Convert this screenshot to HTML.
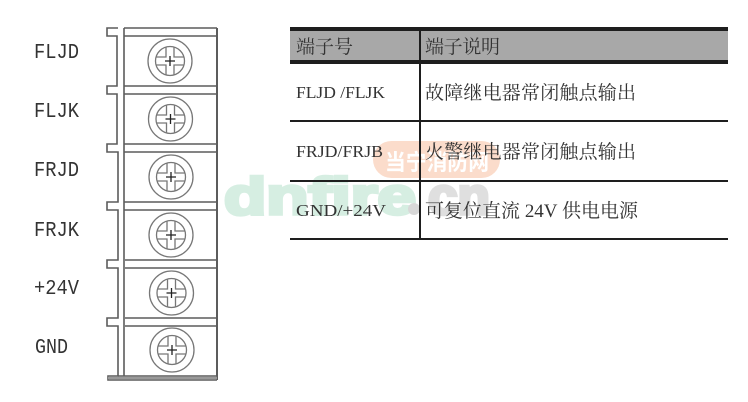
<!DOCTYPE html>
<html><head><meta charset="utf-8">
<style>
html,body{margin:0;padding:0;background:#fff}
body{width:748px;height:402px;overflow:hidden;position:relative}
svg{position:absolute;left:0;top:0;filter:blur(0.35px)}
</style></head>
<body>
<svg width="748" height="402" viewBox="0 0 748 402" xmlns="http://www.w3.org/2000/svg">
<!-- watermark -->
<text x="224" y="214" font-family="'Liberation Sans',sans-serif" font-weight="700" font-size="52" fill="#d6eee2" stroke="#d6eee2" stroke-width="3.5" textLength="192" lengthAdjust="spacingAndGlyphs">dnfire</text>
<circle cx="414" cy="209" r="6" fill="#d8d8d8"/>
<text x="428" y="214" font-family="'Liberation Sans',sans-serif" font-weight="700" font-size="52" fill="#dfdfdf" stroke="#dfdfdf" stroke-width="3.5" textLength="62" lengthAdjust="spacingAndGlyphs">cn</text>
<rect x="373" y="141" width="127" height="37" rx="18.5" fill="#fbdccb"/>
<text x="385" y="170" font-family="'Noto Sans CJK SC',sans-serif" font-weight="700" font-size="22" fill="#fff" textLength="104" lengthAdjust="spacingAndGlyphs">当宁消防网</text>

<!-- terminal block -->
<g fill="none" stroke="#5c5c5c" stroke-width="1.6">
<path d="M118 28H107V36H117V86H107V94H117V144H107V152H118V202H107V210H118V260H107V268H118V318H107V326H118V376H108V380H217"/>
<path d="M124 28V376"/>
<path d="M124 28H217M124 36H217M124 86H217M124 94H217M124 144H217M124 152H217M124 202H217M124 210H217M125 260H217M125 268H217M125 318H217M125 326H217M118 376H217"/>
<path d="M217 28V380" stroke-width="2"/>
<path d="M108 378H217" stroke="#999" stroke-width="2.5"/>
</g>
<g fill="none" stroke="#777" stroke-width="1.3">
<g transform="translate(170,61)"><circle r="22"/><circle r="14.5"/><path d="M-14 -4H-4V-14M4 -14V-4H14M14 4H4V14M-4 14V4H-14"/><path d="M-5 0H5M0 -5V5" stroke="#222"/></g>
<g transform="translate(170.5,119)"><circle r="22"/><circle r="14.5"/><path d="M-14 -4H-4V-14M4 -14V-4H14M14 4H4V14M-4 14V4H-14"/><path d="M-5 0H5M0 -5V5" stroke="#222"/></g>
<g transform="translate(171,177)"><circle r="22"/><circle r="14.5"/><path d="M-14 -4H-4V-14M4 -14V-4H14M14 4H4V14M-4 14V4H-14"/><path d="M-5 0H5M0 -5V5" stroke="#222"/></g>
<g transform="translate(171,235)"><circle r="22"/><circle r="14.5"/><path d="M-14 -4H-4V-14M4 -14V-4H14M14 4H4V14M-4 14V4H-14"/><path d="M-5 0H5M0 -5V5" stroke="#222"/></g>
<g transform="translate(171.5,293)"><circle r="22"/><circle r="14.5"/><path d="M-14 -4H-4V-14M4 -14V-4H14M14 4H4V14M-4 14V4H-14"/><path d="M-5 0H5M0 -5V5" stroke="#222"/></g>
<g transform="translate(172,350)"><circle r="22"/><circle r="14.5"/><path d="M-14 -4H-4V-14M4 -14V-4H14M14 4H4V14M-4 14V4H-14"/><path d="M-5 0H5M0 -5V5" stroke="#222"/></g>
</g>
<!-- terminal labels -->
<g font-family="'Liberation Mono',monospace" font-size="21" fill="#333">
<text x="34" y="58" textLength="45" lengthAdjust="spacingAndGlyphs">FLJD</text>
<text x="34" y="117" textLength="45" lengthAdjust="spacingAndGlyphs">FLJK</text>
<text x="34" y="176" textLength="45" lengthAdjust="spacingAndGlyphs">FRJD</text>
<text x="34" y="236" textLength="45" lengthAdjust="spacingAndGlyphs">FRJK</text>
<text x="34" y="294" textLength="45" lengthAdjust="spacingAndGlyphs">+24V</text>
<text x="35" y="353" textLength="33" lengthAdjust="spacingAndGlyphs">GND</text>
</g>

<!-- table -->
<rect x="290" y="31" width="438" height="30" fill="#a8a8a8"/>
<rect x="290" y="27" width="438" height="4" fill="#1e1e1e"/>
<rect x="290" y="60" width="438" height="4" fill="#1e1e1e"/>
<rect x="290" y="120" width="438" height="2" fill="#1e1e1e"/>
<rect x="290" y="180" width="438" height="2" fill="#1e1e1e"/>
<rect x="290" y="238" width="438" height="2" fill="#1e1e1e"/>
<rect x="419" y="27" width="2" height="213" fill="#1e1e1e"/>
<g font-family="'Liberation Serif','Noto Serif CJK SC',serif" fill="#333">
<text x="296" y="53" font-size="19" textLength="57">端子号</text>
<text x="425" y="53" font-size="19" textLength="75">端子说明</text>
<text x="296" y="98" font-size="16.5" textLength="89" lengthAdjust="spacingAndGlyphs">FLJD /FLJK</text>
<text x="425" y="99" font-size="19" textLength="211">故障继电器常闭触点输出</text>
<text x="296" y="157" font-size="16.5" textLength="87" lengthAdjust="spacingAndGlyphs">FRJD/FRJB</text>
<text x="425" y="158" font-size="19" textLength="211">火警继电器常闭触点输出</text>
<text x="296" y="216" font-size="16.5" textLength="90" lengthAdjust="spacingAndGlyphs">GND/+24V</text>
<text x="425" y="217" font-size="19" textLength="213">可复位直流 24V 供电电源</text>
</g>
</svg>
</body></html>
